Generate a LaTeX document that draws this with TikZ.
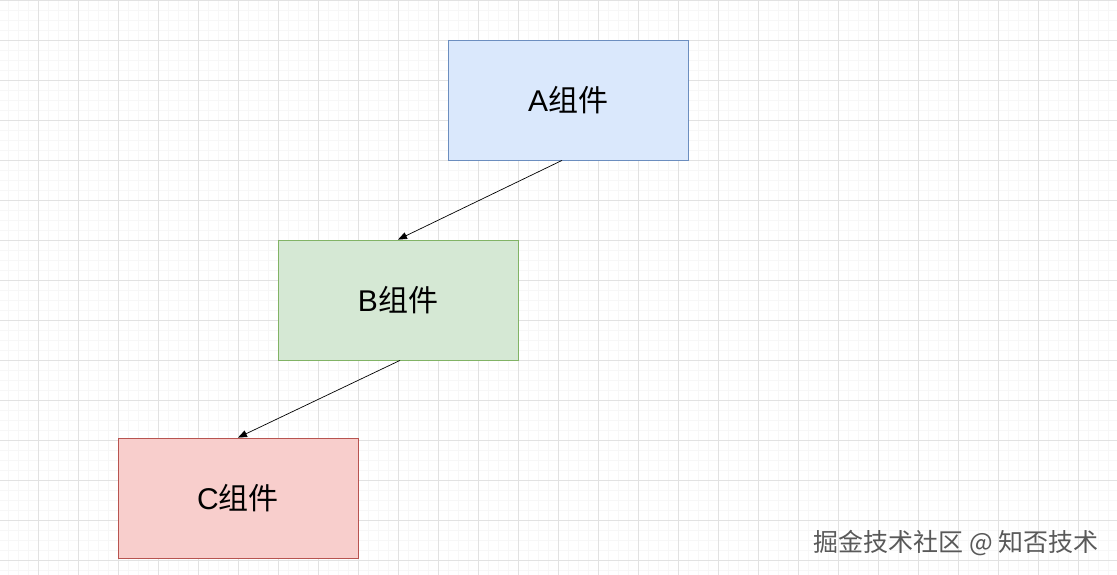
\documentclass[tikz,border=0pt]{standalone}
\usepackage{fontspec}
\setmainfont{Liberation Sans}
\newfontfamily\cjk{Noto Sans CJK SC}
\usetikzlibrary{arrows.meta}

\definecolor{bluefill}{HTML}{DAE8FC}
\definecolor{blueline}{HTML}{6C8EBF}
\definecolor{greenfill}{HTML}{D5E8D4}
\definecolor{greenline}{HTML}{82B366}
\definecolor{redfill}{HTML}{F8CECC}
\definecolor{redline}{HTML}{B85450}
\definecolor{gridminor}{HTML}{F7F7F7}
\definecolor{gridmajor}{HTML}{E2E2E2}

\tikzset{
  comp/.style={draw, line width=0.8pt, minimum width=240pt, minimum height=120pt,
    font=\fontsize{30}{34}\selectfont},
  link/.style={-{Triangle[length=9pt,width=7pt]}, line width=0.7pt},
}

\begin{document}
\begin{tikzpicture}[x=1pt, y=-1pt]
  \fill[white] (0,0) rectangle (1117,575);
  \useasboundingbox (0,0) rectangle (1117,575);
  % grid
  \foreach \gx in {-2,8,...,1118} \draw[gridminor, line width=0.6pt] (\gx,0) -- (\gx,575);
  \foreach \gy in {0,10,...,570} \draw[gridminor, line width=0.6pt] (0,\gy) -- (1117,\gy);
  \foreach \gx in {-2,38,...,1118} \draw[gridmajor, line width=0.8pt] (\gx,0) -- (\gx,575);
  \foreach \gy in {0,40,...,570} \draw[gridmajor, line width=0.8pt] (0,\gy) -- (1117,\gy);
  % components
  \node[comp, fill=bluefill, draw=blueline] (a) at (568,100) {A{\cjk 组件}};
  \node[comp, fill=greenfill, draw=greenline] (b) at (398,300) {B{\cjk 组件}};
  \node[comp, fill=redfill, draw=redline] (c) at (238,498) {C{\cjk 组件}};
  \draw[link] ([xshift=-6pt]a.south) -- (b.north);
  \draw[link] ([xshift=2pt]b.south) -- (c.north);
  % watermark
  \node[text=black!65, font=\cjk\fontsize{25}{29}\selectfont] (mark) at (956,543)
    {掘金技术社区 @ 知否技术};
\end{tikzpicture}
\end{document}
